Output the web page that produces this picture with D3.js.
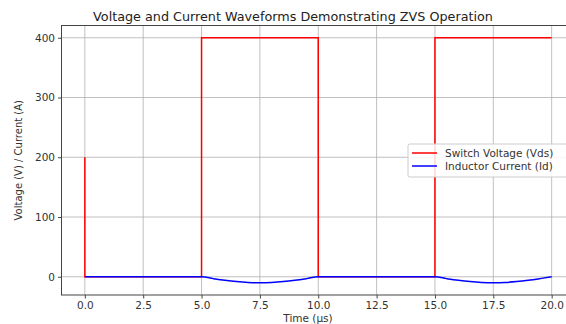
<!DOCTYPE html>
<html>
<head>
<meta charset="utf-8">
<script src="https://cdn.jsdelivr.net/npm/d3@7"></script>
<style>
  body { margin: 0; background: #fff; }
  svg { font-family: "DejaVu Sans", sans-serif; }
</style>
</head>
<body>
<svg id="chart" width="566" height="324"></svg>
<script>
// data
var voltT = [0, 0, 5, 5, 10, 10, 15, 15, 20];
var voltV = [200, 0, 0, 400, 400, 0, 0, 400, 400];

var currT = [0, 5, 5.5, 6, 6.5, 7, 7.5, 8, 8.5, 9, 9.5, 10, 15, 15.5, 16, 16.5, 17, 17.5, 18, 18.5, 19, 19.5, 20];
var currI = [0, 0, -3.1, -5.9, -8.1, -9.5, -10, -9.5, -8.1, -5.9, -3.1, 0, 0, -3.1, -5.9, -8.1, -9.5, -10, -9.5, -8.1, -5.9, -3.1, 0];

var xTicks = [0, 2.5, 5, 7.5, 10, 12.5, 15, 17.5, 20];
var yTicks = [0, 100, 200, 300, 400];
var legendLabels = ["Switch Voltage (Vds)", "Inductor Current (Id)"];
var seriesColors = ["#ff0000", "#0000ff"];

var svg = d3.select("#chart"),
    plotL = 61.5, plotR = 575, plotT = 25.5, plotB = 295;

var x = d3.scaleLinear().domain([-1, 21]).range([plotL, plotR]);
var y = d3.scaleLinear().domain([-30.5, 420.5]).range([plotB, plotT]);

// grid
svg.append("g").selectAll("line")
  .data(xTicks).enter().append("line")
    .attr("x1", d => x(d)).attr("x2", d => x(d))
    .attr("y1", plotT).attr("y2", plotB)
    .attr("stroke", "#b0b0b0").attr("stroke-width", 0.8);
svg.append("g").selectAll("line")
  .data(yTicks).enter().append("line")
    .attr("x1", plotL).attr("x2", plotR)
    .attr("y1", d => y(d)).attr("y2", d => y(d))
    .attr("stroke", "#b0b0b0").attr("stroke-width", 0.8);

// axes
var xAxis = svg.append("g")
    .attr("transform", "translate(0," + plotB + ")")
    .call(d3.axisBottom(x).tickValues(xTicks).tickFormat(d3.format(".1f")).tickSize(3.5).tickPadding(3));
var yAxis = svg.append("g")
    .attr("transform", "translate(" + plotL + ",0)")
    .call(d3.axisLeft(y).tickValues(yTicks).tickSize(3.5).tickPadding(3));
[xAxis, yAxis].forEach(function(a) {
  a.select(".domain").remove();
  a.selectAll("text").attr("font-size", 10.5).attr("fill", "#333").attr("font-family", "DejaVu Sans");
  a.selectAll("line").attr("stroke", "#444");
});

// frame
svg.append("rect")
    .attr("x", plotL).attr("y", plotT)
    .attr("width", plotR - plotL).attr("height", plotB - plotT)
    .attr("fill", "none").attr("stroke", "#444").attr("stroke-width", 1);

// lines
var voltLine = d3.line().x(d => x(d[0])).y(d => y(d[1]));
svg.append("path")
    .datum(d3.zip(voltT, voltV))
    .attr("d", voltLine)
    .attr("fill", "none").attr("stroke", seriesColors[0]).attr("stroke-width", 1.5);

var currLine = d3.line().x(d => x(d[0])).y(d => y(d[1])).curve(d3.curveMonotoneX);
svg.append("path")
    .datum(d3.zip(currT, currI))
    .attr("d", currLine)
    .attr("fill", "none").attr("stroke", seriesColors[1]).attr("stroke-width", 1.5);

// title and labels
svg.append("text")
    .attr("x", 293).attr("y", 21)
    .attr("text-anchor", "middle")
    .attr("font-size", 12.75).attr("fill", "#222")
    .text("Voltage and Current Waveforms Demonstrating ZVS Operation");

svg.append("text")
    .attr("x", 308).attr("y", 322)
    .attr("text-anchor", "middle")
    .attr("font-size", 10.5).attr("fill", "#333")
    .text("Time (µs)");

svg.append("text")
    .attr("transform", "translate(22," + ((plotT + plotB) / 2) + ") rotate(-90)")
    .attr("text-anchor", "middle")
    .attr("font-size", 10).attr("fill", "#333")
    .text("Voltage (V) / Current (A)");

// legend
var lg = svg.append("g").attr("transform", "translate(408,144)");
lg.append("rect")
    .attr("width", 170).attr("height", 33).attr("rx", 2)
    .attr("fill", "#fff").attr("fill-opacity", 0.85)
    .attr("stroke", "#ccc");
legendLabels.forEach(function(lbl, i) {
  lg.append("line")
      .attr("x1", 4).attr("x2", 29)
      .attr("y1", 9 + i * 13).attr("y2", 9 + i * 13)
      .attr("stroke", seriesColors[i]).attr("stroke-width", 1.5);
  lg.append("text")
      .attr("x", 37).attr("y", 9 + i * 13).attr("dy", "0.35em")
      .attr("font-size", 10.5).attr("fill", "#333")
      .text(lbl);
});
</script>
</body>
</html>
